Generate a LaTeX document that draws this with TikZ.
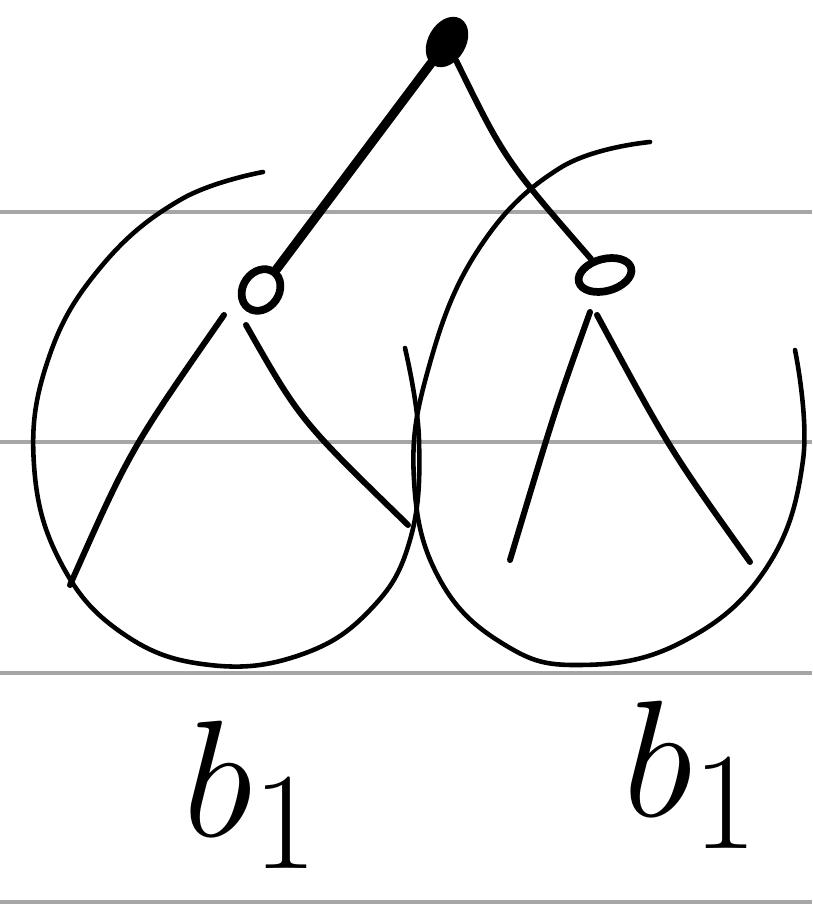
\documentclass[tikz,border=0pt]{standalone}
\usepackage{amsmath}
\usetikzlibrary{shapes.geometric}

\begin{document}
\begin{tikzpicture}[x=0.01cm,y=-0.01cm,
  treenode/.style={ellipse, draw, line width=2.2pt, inner sep=0pt},
  edgeline/.style={line width=1.7pt, line cap=round},
  bagline/.style={line width=1.3pt, line cap=round},
  label/.style={font=\Huge, scale=1.9}]
  % Fix the picture size
  \useasboundingbox (0,0) rectangle (812,904);

  % Draw the ruled lines
  \foreach \y in {212,442,673,902} {
   \draw[gray!70, line width=0.9pt] (0,\y) -- (812,\y);
  }

  % Draw the nodes
  \node[treenode, fill=black, minimum width=0.3cm, minimum height=0.46cm, rotate=-30] (root) at (447,42) {};
  \node[treenode, minimum width=0.36cm, minimum height=0.44cm, rotate=-35] (left) at (261,290) {};
  \node[treenode, minimum width=0.54cm, minimum height=0.32cm, rotate=15] (right) at (605,275) {};

  % Draw the edges
  \draw[edgeline, line width=2.6pt] (root) -- (left);
  \draw[edgeline] (root) .. controls (505,160) .. (right);

  % Draw the subtrees
  \coordinate (lefta) at (70,585);
  \coordinate (leftb) at (408,525);
  \coordinate (righta) at (510,560);
  \coordinate (rightb) at (750,562);
  \draw[edgeline] (224,315) .. controls (130,450) .. (lefta);
  \draw[edgeline] (246,325) .. controls (300,420) .. (leftb);
  \draw[edgeline] (590,312) .. controls (555,410) .. (righta);
  \draw[edgeline] (597,315) .. controls (670,450) .. (rightb);

  % Draw the bags
  \draw[bagline] plot[smooth, tension=0.7] coordinates {
   (263,172) (180,200) (100,268) (48,360) (34,465) (62,565) (125,635)
   (210,665) (300,655) (370,610) (410,540) (419,440) (405,348)};
  \draw[bagline] plot[smooth, tension=0.7] coordinates {
   (650,142) (560,168) (478,250) (428,370) (414,480) (440,580) (505,645)
   (580,665) (680,643) (765,570) (803,460) (795,350)};

  % Draw the labels
  \node[label] (lbl1) at (252,795) {$b_1$};
  \node[label] (lbl2) at (692,775) {$b_1$};

\end{tikzpicture}
\end{document}
